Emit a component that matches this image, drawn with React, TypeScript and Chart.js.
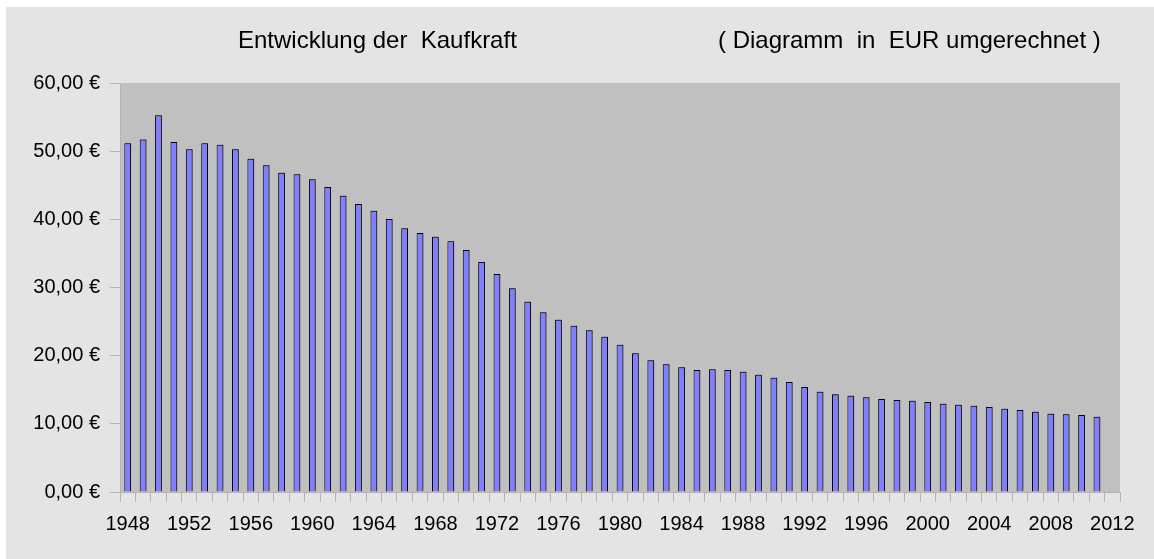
import React, { useEffect, useRef } from "react";
import { Chart, registerables } from "chart.js";

Chart.register(...registerables);

const years: string[] = [
  "1948", "1949", "1950", "1951", "1952", "1953", "1954", "1955", "1956", "1957",
  "1958", "1959", "1960", "1961", "1962", "1963", "1964", "1965", "1966", "1967",
  "1968", "1969", "1970", "1971", "1972", "1973", "1974", "1975", "1976", "1977",
  "1978", "1979", "1980", "1981", "1982", "1983", "1984", "1985", "1986", "1987",
  "1988", "1989", "1990", "1991", "1992", "1993", "1994", "1995", "1996", "1997",
  "1998", "1999", "2000", "2001", "2002", "2003", "2004", "2005", "2006", "2007",
  "2008", "2009", "2010", "2011", "2012",
];

const kaufkraft: (number | null)[] = [
  51.15, 51.7, 55.26, 51.34, 50.27, 51.15, 50.95, 50.27, 48.9, 47.92,
  46.84, 46.6, 45.87, 44.74, 43.47, 42.25, 41.27, 40.05, 38.68, 37.99,
  37.43, 36.77, 35.5, 33.74, 31.98, 29.88, 27.92, 26.36, 25.28, 24.4,
  23.72, 22.78, 21.61, 20.34, 19.31, 18.73, 18.29, 17.9, 18.0, 17.9,
  17.65, 17.21, 16.75, 16.14, 15.4, 14.72, 14.33, 14.13, 13.89, 13.64,
  13.5, 13.4, 13.2, 12.96, 12.81, 12.66, 12.47, 12.22, 12.03, 11.78,
  11.49, 11.39, 11.3, 11.05, null,
];

const yTicks: number[] = [0, 10, 20, 30, 40, 50, 60];

const titleLeft = "Entwicklung der  Kaufkraft";
const titleRight = "( Diagramm  in  EUR umgerechnet )";

const FONT = "'Liberation Sans', Arial, sans-serif";

export default function App() {
  const ref = useRef<HTMLCanvasElement | null>(null);

  useEffect(() => {
    const canvas = ref.current;
    if (!canvas) return;

    const bgPlugin = {
      id: "bgPlugin",
      beforeDraw(chart: any) {
        const { ctx, chartArea } = chart;
        ctx.save();
        ctx.fillStyle = "#ffffff";
        ctx.fillRect(0, 0, chart.width, chart.height);
        ctx.fillStyle = "#e4e4e4";
        ctx.fillRect(6, 7, chart.width - 6, chart.height - 7);
        ctx.fillStyle = "#c0c0c0";
        ctx.fillRect(chartArea.left, chartArea.top, chartArea.right - chartArea.left, chartArea.bottom - chartArea.top);
        ctx.restore();
      },
      afterDraw(chart: any) {
        const { ctx } = chart;
        ctx.save();
        ctx.fillStyle = "#000000";
        ctx.font = `24px ${FONT}`;
        ctx.textBaseline = "alphabetic";
        ctx.textAlign = "left";
        ctx.fillText(titleLeft, 238, 48);
        ctx.fillText(titleRight, 718, 48);
        ctx.restore();
      },
    };

    const shadowPlugin = {
      id: "shadowPlugin",
      beforeDatasetsDraw(chart: any) {
        const ctx = chart.ctx;
        ctx.save();
        ctx.shadowColor = "rgba(0,0,0,0.35)";
        ctx.shadowOffsetX = 1;
        ctx.shadowOffsetY = -1;
        ctx.shadowBlur = 0;
      },
      afterDatasetsDraw(chart: any) {
        chart.ctx.restore();
      },
    };

    const chart = new Chart(canvas, {
      type: "bar",
      data: {
        labels: years,
        datasets: [
          {
            data: kaufkraft as any,
            backgroundColor: "#8080ff",
            borderColor: "#000000",
            borderWidth: 1,
            borderSkipped: "bottom",
            barPercentage: 0.44,
            categoryPercentage: 1,
          },
        ],
      },
      options: {
        responsive: false,
        animation: false,
        layout: { padding: { top: 83, right: 34, left: 0, bottom: 0 } },
        plugins: {
          legend: { display: false },
          tooltip: { enabled: false },
          title: { display: false },
        },
        scales: {
          x: {
            offset: true,
            grid: {
              display: true,
              offset: true,
              drawOnChartArea: false,
              drawTicks: true,
              tickLength: 10,
              color: "#b4b4b4",
              tickColor: "#b4b4b4",
            },
            border: { display: true, color: "#b4b4b4", width: 1 },
            ticks: {
              autoSkip: false,
              maxRotation: 0,
              minRotation: 0,
              padding: 10,
              color: "#000000",
              font: { family: FONT, size: 20 },
              callback: (_v: any, i: number) => (i % 4 === 0 ? years[i] : ""),
            },
            afterFit: (scale: any) => {
              scale.height = 67;
            },
          },
          y: {
            min: 0,
            max: 60,
            afterBuildTicks: (scale: any) => {
              scale.ticks = yTicks.map((v) => ({ value: v }));
            },
            grid: {
              display: true,
              drawOnChartArea: false,
              drawTicks: true,
              tickLength: 10,
              color: "#b4b4b4",
              tickColor: "#b4b4b4",
            },
            border: { display: true, color: "#b4b4b4", width: 1 },
            ticks: {
              padding: 10,
              color: "#000000",
              font: { family: FONT, size: 20 },
              callback: (v: any) => `${Number(v).toFixed(2).replace(".", ",")} €`,
            },
            afterFit: (scale: any) => {
              scale.width = 120;
            },
          },
        },
      },
      plugins: [bgPlugin, shadowPlugin],
    });

    return () => chart.destroy();
  }, []);

  return (
    <div style={{ position: "absolute", left: 0, top: 0, width: 1154, height: 559 }}>
      <canvas ref={ref} width={1154} height={559} style={{ width: 1154, height: 559, display: "block" }} />
    </div>
  );
}
